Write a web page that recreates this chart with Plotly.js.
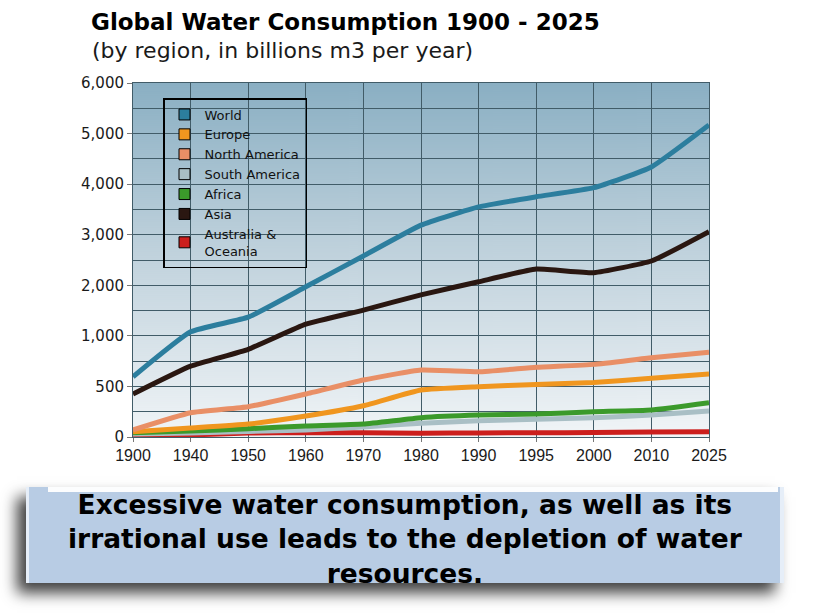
<!DOCTYPE html>
<html>
<head>
<meta charset="utf-8">
<script src="https://cdn.plot.ly/plotly-3.0.1.min.js"></script>
<style>
  html, body { margin: 0; padding: 0; background: #ffffff; }
  #chart { width: 816px; height: 613px; }
</style>
</head>
<body>
<div id="chart"></div>
<script>
// ---- Data (billions m3 per year) ----
const years = ['1900','1940','1950','1960','1970','1980','1990','1995','2000','2010','2025'];
const world        = [595, 1080, 1370, 1970, 2580, 3190, 3550, 3750, 3930, 4340, 5170];
const europe       = [52, 89, 128, 207, 309, 464, 497, 520, 540, 580, 622];
const northAmerica = [70, 240, 300, 425, 563, 662, 645, 689, 718, 784, 837];
const southAmerica = [30, 40, 55, 70, 100, 135, 161, 175, 191, 217, 257];
const africa       = [42, 59, 82, 109, 128, 191, 217, 227, 250, 267, 339];
const asia         = [425, 700, 867, 1230, 1510, 1810, 2070, 2320, 2250, 2480, 3060];
const australia    = [15, 20, 40, 42, 42, 38, 40, 42, 44, 50, 52];

const seriesNames = ['World','Europe','North America','South America','Africa','Asia','Australia &<br>Oceania'];
const yTickValues = [0, 500, 1000, 2000, 3000, 4000, 5000, 6000];
const yTickLabels = ['0','500','1,000','2,000','3,000','4,000','5,000','6,000'];

// The original axis is piecewise: 0-500-1000 then steps of 1000, all equally spaced.
function toAxis(v) {
  if (v == null) return null;
  return v <= 1000 ? v / 500 : 2 + (v - 1000) / 1000;
}

const colorList = ['#2c7e9e', '#f0961f', '#e98f66', '#a9bfc5', '#3b9a2b', '#2a1711', '#cc1f1d'];
const seriesData = [world, europe, northAmerica, southAmerica, africa, asia, australia];

// draw order: bottom lines first
const drawOrder = [6, 3, 4, 1, 2, 5, 0];
const traces = [];
drawOrder.forEach(i => {
  traces.push({
    type: 'scatter', mode: 'lines',
    x: years, y: seriesData[i].map(toAxis),
    customdata: seriesData[i],
    name: seriesNames[i].replace('<br>', ' '),
    showlegend: false,
    line: { color: colorList[i], width: 5, shape: 'spline', smoothing: 0.4 },
    hovertemplate: '%{x}: %{customdata}<extra></extra>'
  });
});
// legend entries (square swatches)
seriesNames.forEach((n, i) => {
  traces.push({
    type: 'scatter', mode: 'markers',
    x: [null], y: [null], name: n, showlegend: true,
    marker: { symbol: 'square', size: 11, color: colorList[i], line: { color: '#000', width: 1 } },
    hoverinfo: 'skip'
  });
});

// ---- decorative images (gradient background, text box) ----
function gradientURL() {
  const c = document.createElement('canvas');
  c.width = 4; c.height = 354;
  const ctx = c.getContext('2d');
  const g = ctx.createLinearGradient(0, 0, 0, 354);
  g.addColorStop(0, '#8aafc3');
  g.addColorStop(0.45, '#bdd0db');
  g.addColorStop(0.85, '#e2eaef');
  g.addColorStop(1, '#f1f5f7');
  ctx.fillStyle = g; ctx.fillRect(0, 0, 4, 354);
  return c.toDataURL();
}
function boxURL() {
  const c = document.createElement('canvas');
  c.width = 816; c.height = 140;
  const ctx = c.getContext('2d');
  ctx.save();
  ctx.shadowColor = 'rgba(0,0,0,0.75)';
  ctx.shadowBlur = 14;
  ctx.shadowOffsetX = -9;
  ctx.shadowOffsetY = 10;
  ctx.fillStyle = '#b8cce4';
  ctx.fillRect(26, 14, 758, 96);
  ctx.restore();
  ctx.fillStyle = '#b8cce4';
  ctx.fillRect(26, 14, 758, 96);
  // bevel highlights
  ctx.fillStyle = 'rgba(255,255,255,0.95)';
  ctx.fillRect(48, 14, 730, 5);
  ctx.fillStyle = 'rgba(235,242,250,0.9)';
  ctx.fillRect(26, 14, 3, 96);
  ctx.fillRect(780, 14, 4, 96);
  return c.toDataURL();
}

// plot area in pixels: x 133..709, y 83..437
const PL = 133, PR = 709, PT = 83, PB = 437;
const PW = PR - PL, PH = PB - PT;
const px = v => (v - PL) / PW;
const py = v => (PB - v) / PH;
const yTop = toAxis(6000);
const xLast = years.length - 1;

const gridColor = '#415c68';

const layout = {
  width: 816, height: 613,
  margin: { l: PL, r: 816 - PR, t: PT, b: 613 - PB, pad: 0 },
  paper_bgcolor: '#ffffff',
  plot_bgcolor: 'rgba(0,0,0,0)',
  font: { family: 'DejaVu Sans, Arial, sans-serif', color: '#1a1a1a' },
  title: {
    text: '<b>Global Water Consumption 1900 - 2025</b>',
    font: { family: 'DejaVu Sans', size: 23, color: '#000' },
    xref: 'container', yref: 'container',
    x: 91 / 816, xanchor: 'left',
    y: 1 - 22 / 613, yanchor: 'middle'
  },
  xaxis: {
    type: 'category',
    range: [0, xLast],
    showgrid: true, gridcolor: gridColor, gridwidth: 1,
    zeroline: false,
    showline: true, linecolor: gridColor, linewidth: 1, mirror: true,
    ticks: 'outside', ticklen: 4, tickcolor: '#777',
    tickfont: { family: 'Liberation Sans, Arial', size: 16, color: '#1a1a1a' },
    fixedrange: true
  },
  yaxis: {
    range: [0, yTop],
    tickmode: 'array',
    tickvals: yTickValues.map(toAxis),
    ticktext: yTickLabels,
    showgrid: true, gridcolor: gridColor, gridwidth: 1,
    minor: { tickmode: 'linear', tick0: 0, dtick: 0.5, showgrid: true, gridcolor: gridColor, gridwidth: 1, ticks: '' },
    zeroline: false,
    showline: true, linecolor: gridColor, linewidth: 1, mirror: true,
    ticks: 'outside', ticklen: 5, tickcolor: '#777',
    tickfont: { family: 'DejaVu Sans', size: 15, color: '#1a1a1a' },
    fixedrange: true
  },
  legend: {
    x: px(163), y: py(98), xanchor: 'left', yanchor: 'top',
    bgcolor: 'rgba(0,0,0,0)', bordercolor: '#000', borderwidth: 1.5,
    font: { family: 'DejaVu Sans', size: 13, color: '#111' },
    itemwidth: 30, tracegroupgap: 0,
    traceorder: 'normal'
  },
  images: [
    { source: gradientURL(), xref: 'x', yref: 'y', x: 0, y: yTop, sizex: xLast, sizey: yTop,
      sizing: 'stretch', xanchor: 'left', yanchor: 'top', layer: 'below' },
    { source: boxURL(), xref: 'paper', yref: 'paper', x: px(0), y: py(473), sizex: 816 / PW, sizey: 140 / PH,
      sizing: 'stretch', xanchor: 'left', yanchor: 'top', layer: 'below' }
  ],
  annotations: [
    { text: '(by region, in billions m3 per year)', xref: 'paper', yref: 'paper',
      x: px(90), y: py(50), xanchor: 'left', yanchor: 'middle', showarrow: false,
      font: { family: 'DejaVu Sans', size: 22, color: '#1a1a1a' } },
    { text: '<b>Excessive water consumption, as well as its<br>irrational use leads to the depletion of water<br>resources.</b>',
      xref: 'paper', yref: 'paper', x: px(405), y: py(539), xanchor: 'center', yanchor: 'middle',
      showarrow: false, align: 'center',
      font: { family: 'DejaVu Sans', size: 26.5, color: '#000' } }
  ]
};

Plotly.newPlot('chart', traces, layout, { displayModeBar: false, staticPlot: true });
</script>
</body>
</html>
